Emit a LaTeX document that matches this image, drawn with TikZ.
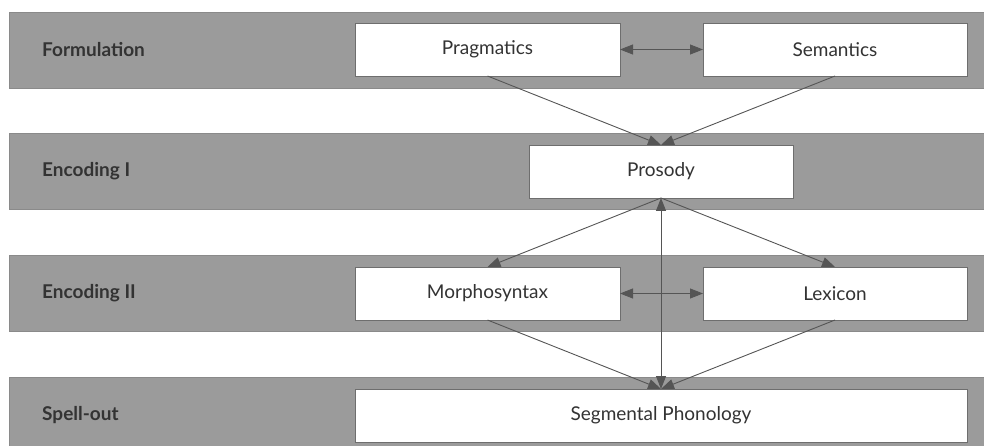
\documentclass[tikz,border=0pt]{standalone}
\usepackage{fontspec}
\setmainfont{Lato}
\usetikzlibrary{arrows.meta}
\definecolor{BandGray}{HTML}{9B9B9B}
\definecolor{BandLine}{HTML}{8A8A8A}
\definecolor{BoxLine}{HTML}{6E6E6E}
\definecolor{InkGray}{HTML}{333333}
\definecolor{ArrowGray}{HTML}{555555}

\begin{document}
\begin{tikzpicture}[x=1pt, y=-1pt,
  band/.style={draw=BandLine, line width=0.8pt, fill=BandGray, minimum width=981pt, minimum height=76pt, inner sep=0pt, outer sep=0pt},
  level/.style={anchor=west, inner sep=0pt, text=InkGray, font=\fontsize{19}{22}\selectfont\bfseries},
  part/.style={draw=BoxLine, line width=0.8pt, fill=white, minimum height=53pt, inner sep=0pt, outer sep=0pt, text=InkGray, font=\fontsize{19}{22}\selectfont},
  arr/.style={-{Triangle[length=13pt, width=10pt]}, line width=0.9pt, ArrowGray},
  darr/.style={{Triangle[length=13pt, width=10pt]}-{Triangle[length=13pt, width=10pt]}, line width=0.9pt, ArrowGray}
]
\useasboundingbox (0,0) rectangle (984,446);
\node[band] (b1) at (499.5,50) {};
\node[band] (b2) at (499.5,171) {};
\node[band] (b3) at (499.5,293) {};
\node[band] (b4) at (499.5,415) {};
\node[level] (l1) at (42,50) {Formulation};
\node[level] (l2) at (42,171) {Encoding I};
\node[level] (l3) at (42,293) {Encoding II};
\node[level] (l4) at (42,415) {Spell-out};
\node[part, minimum width=265pt] (prag) at (487.5,49.5) {Pragmatics};
\node[part, minimum width=264pt] (sem) at (835,49.5) {Semantics};
\node[part, minimum width=264pt] (pros) at (661,171.5) {Prosody};
\node[part, minimum width=265pt] (morph) at (487.5,293.5) {Morphosyntax};
\node[part, minimum width=264pt] (lex) at (835,293.5) {Lexicon};
\node[part, minimum width=612pt] (seg) at (661,415.5) {Segmental Phonology};
\draw[darr] (prag) -- (sem);
\draw[arr] (prag.south) -- (pros.north);
\draw[arr] (sem.south) -- (pros.north);
\draw[arr] (pros.south) -- (morph.north);
\draw[arr] (pros.south) -- (lex.north);
\draw[darr] (pros.south) -- (seg.north);
\draw[darr] (morph) -- (lex);
\draw[arr] (morph.south) -- (seg.north);
\draw[arr] (lex.south) -- (seg.north);
\end{tikzpicture}
\end{document}
